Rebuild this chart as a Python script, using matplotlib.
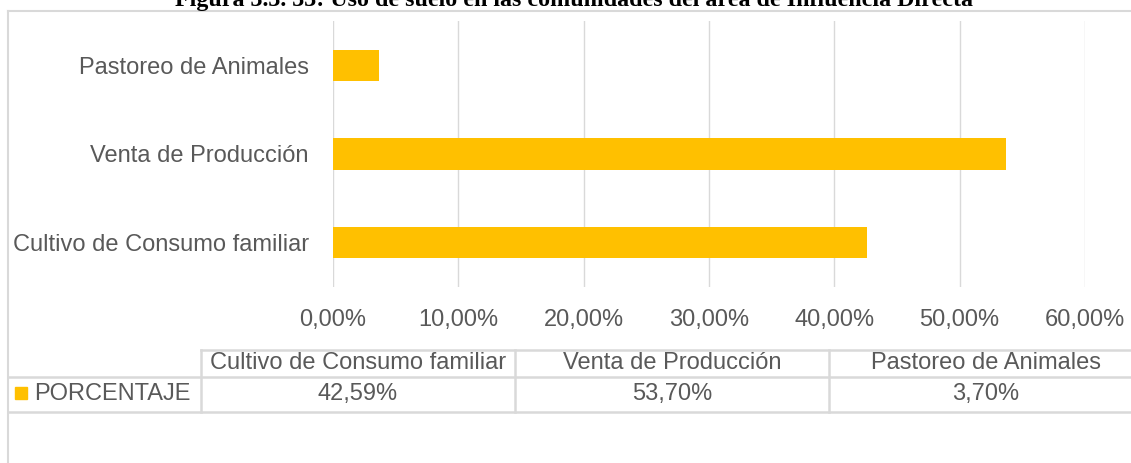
import matplotlib
matplotlib.use('Agg')
from matplotlib import pyplot as plt
from matplotlib.ticker import FuncFormatter
from matplotlib.patches import Rectangle

categories = ['Cultivo de Consumo familiar', 'Venta de Producción', 'Pastoreo de Animales']
values = [0.4259, 0.5370, 0.0370]
series_name = 'PORCENTAJE'
title = 'Figura 3.3. 33: Uso de suelo en las comunidades del área de Influencia Directa'
xticks = [0.0, 0.1, 0.2, 0.3, 0.4, 0.5, 0.6]

W, H = 1131, 463
bar_color = '#FFC000'
text_color = '#595959'
line_color = '#D9D9D9'
fs = 17

plt.rcParams['font.family'] = ['Liberation Sans', 'DejaVu Sans']


def pct(v):
    return '{:.2f}%'.format(v * 100).replace('.', ',')


fig = plt.figure(figsize=(W / 100, H / 100), dpi=100)

# overlay in pixel coords for frame and data table
ov = fig.add_axes([0, 0, 1, 1])
ov.set_xlim(0, W)
ov.set_ylim(H, 0)
ov.axis('off')

# plot area
ax = fig.add_axes([333 / W, 1 - 287 / H, 752 / W, 266 / H])
ypos = list(range(len(categories)))
ax.barh(ypos, values, height=0.356, color=bar_color, zorder=3)
ax.set_xlim(0, 0.6)
ax.set_ylim(-0.5, len(categories) - 0.5)
ax.set_xticks(xticks)
ax.xaxis.set_major_formatter(FuncFormatter(lambda v, p: pct(v)))
ax.set_yticks(ypos)
ax.set_yticklabels(categories)
ax.grid(axis='x', color=line_color, linewidth=1.0, zorder=0)
for s in ax.spines.values():
    s.set_visible(False)
ax.tick_params(axis='x', length=0, pad=15.5, labelsize=fs, labelcolor=text_color)
ax.tick_params(axis='y', length=0, pad=17.5, labelsize=fs, labelcolor=text_color)
ax.set_facecolor('none')

# outer frame
ov.plot([7.5, W], [10.5, 10.5], color=line_color, lw=1.5)
ov.plot([7.5, 7.5], [10.5, H], color=line_color, lw=1.5)

# title (sits at the top edge like the reference)
fig.text(574 / W, 1 - 6 / H, title, ha='center', va='baseline',
         family=['Liberation Serif', 'DejaVu Serif'], weight='bold', fontsize=17.3, color='black')

# data table
col_edges = [201, 515, 829, 1143]
top, mid, bot = 349.5, 376.5, 411.5
ov.plot([col_edges[0], W], [top, top], color=line_color, lw=1.8)
ov.plot([7.5, W], [mid, mid], color=line_color, lw=1.8)
ov.plot([7.5, W], [bot, bot], color=line_color, lw=1.8)
for x in col_edges[:-1]:
    ov.plot([x, x], [top, bot], color=line_color, lw=1.8)
for i, (c, v) in enumerate(zip(categories, values)):
    cx = (col_edges[i] + col_edges[i + 1]) / 2
    ov.text(cx, (top + mid) / 2, c, ha='center', va='center', fontsize=fs, color=text_color)
    ov.text(cx, (mid + bot) / 2, pct(v), ha='center', va='center', fontsize=fs, color=text_color)
ov.add_patch(Rectangle((15, 387), 12, 12, color=bar_color))
ov.text(34, (mid + bot) / 2, series_name, ha='left', va='center', fontsize=fs, color=text_color)

fig.savefig('out.png', dpi=100)
